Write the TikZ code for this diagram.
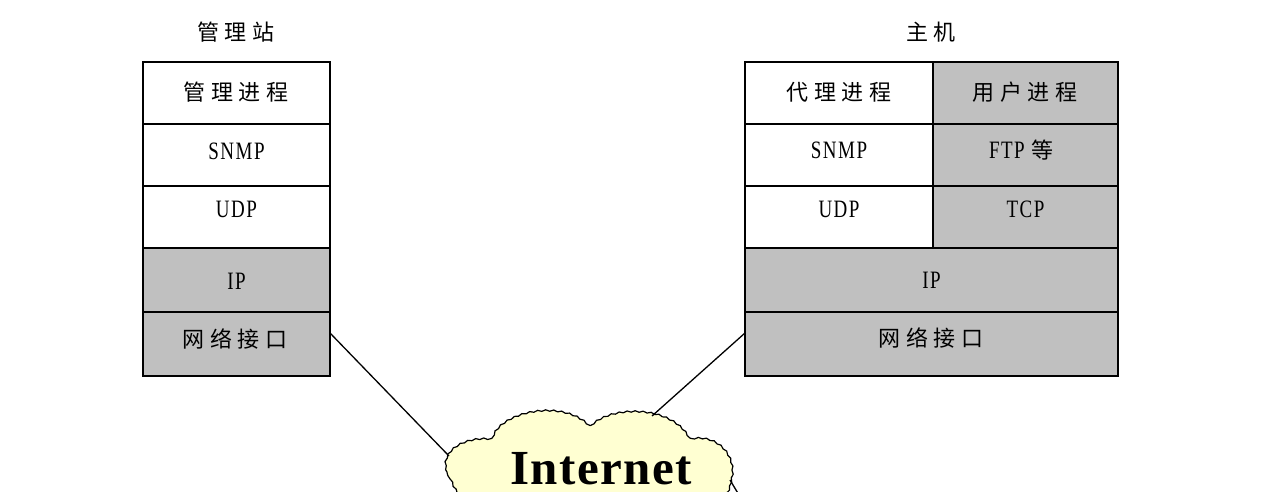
\documentclass[tikz,border=0pt]{standalone}
\usepackage{fontspec}
\setmainfont{Liberation Serif}
\newfontfamily\cjk{Noto Sans CJK SC}[LetterSpace=26]
\newfontfamily\lat{Liberation Serif}[FakeStretch=0.76,LetterSpace=6]
\newfontfamily\bigbold{Liberation Serif}[LetterSpace=3]
\usetikzlibrary{decorations.pathmorphing}
\definecolor{layergray}{HTML}{C0C0C0}
\definecolor{cloudfill}{HTML}{FFFFD2}
\tikzset{
  cell/.style={draw=black, line width=1.6pt, inner sep=0pt, outer sep=0pt},
  wcell/.style={cell, fill=white},
  gcell/.style={cell, fill=layergray},
  cjklab/.style={inner sep=0pt, anchor=center, font=\cjk\fontsize{22}{26}\selectfont},
  latlab/.style={inner sep=0pt, anchor=base, font=\lat\fontsize{25}{30}\selectfont},
  wire/.style={draw=black, line width=1.3pt},
}
\begin{document}
\begin{tikzpicture}[x=1pt,y=-1pt]
\useasboundingbox (0,0) rectangle (1266,492);
\clip (0,0) rectangle (1266,492);
\fill[white] (0,0) rectangle (1266,492);

% ---------- left stack (management station)
\node[cjklab] (ltitle) at (236,32.5) {管理站};
\node[wcell, minimum width=187pt, minimum height=62pt] (lproc) at (236.5,93) {};
\node[wcell, minimum width=187pt, minimum height=62pt] (lsnmp) at (236.5,155) {};
\node[wcell, minimum width=187pt, minimum height=62pt] (ludp)  at (236.5,217) {};
\node[gcell, minimum width=187pt, minimum height=64pt] (lip)   at (236.5,280) {};
\node[gcell, minimum width=187pt, minimum height=64pt] (lnet)  at (236.5,344) {};

\node[cjklab] (lprocT) at (236,92.5) {管理进程};
\node[latlab] (lsnmpT) at (236.5,159) {SNMP};
\node[latlab] (ludpT)  at (236.5,217) {UDP};
\node[latlab] (lipT)   at (236.5,289) {IP};
\node[cjklab] (lnetT)  at (235,339) {网络接口};

% ---------- right stack (host)
\node[cjklab] (rtitle) at (931,32) {主机};
\node[wcell, minimum width=188pt, minimum height=62pt] (rproc) at (839,93) {};
\node[wcell, minimum width=188pt, minimum height=62pt] (rsnmp) at (839,155) {};
\node[wcell, minimum width=188pt, minimum height=62pt] (rudp)  at (839,217) {};
\node[gcell, minimum width=185pt, minimum height=62pt] (uproc) at (1025.5,93) {};
\node[gcell, minimum width=185pt, minimum height=62pt] (uftp)  at (1025.5,155) {};
\node[gcell, minimum width=185pt, minimum height=62pt] (utcp)  at (1025.5,217) {};
\node[gcell, minimum width=373pt, minimum height=64pt] (rip)   at (931.5,280) {};
\node[gcell, minimum width=373pt, minimum height=64pt] (rnet)  at (931.5,344) {};

\node[cjklab] (rprocT) at (839,92.5) {代理进程};
\node[cjklab] (uprocT) at (1025,92.5) {用户进程};
\node[latlab] (rsnmpT) at (839,158) {SNMP};
\node[latlab] (uftpT)  at (1021,158) {FTP {\cjk\fontsize{22}{26}\selectfont 等}};
\node[latlab] (rudpT)  at (839,217) {UDP};
\node[latlab] (utcpT)  at (1025.5,217) {TCP};
\node[latlab] (ripT)   at (931.5,288) {IP};
\node[cjklab] (rnetT)  at (931,338) {网络接口};

% ---------- cloud
\draw[fill=cloudfill, draw=black, line width=1.2pt,
      decorate, decoration={snake, amplitude=0.7pt, segment length=8pt}]
  (447,472) .. controls (441,452) and (466,438) .. (492,441)
  .. controls (497,415) and (560,400) .. (588,427)
  .. controls (605,405) and (670,403) .. (688,438)
  .. controls (715,432) and (736,455) .. (729,480)
  .. controls (726,505) and (700,515) .. (650,518)
  -- (520,518)
  .. controls (470,515) and (452,495) .. (447,472) -- cycle;
\node[inner sep=0pt, anchor=base, font=\bigbold\bfseries\fontsize{49}{58}\selectfont] (inet) at (601,484) {Internet};

\coordinate (cloudL) at (449,456);
\coordinate (cloudT) at (652,416);
\coordinate (cloudR) at (730,480);
\coordinate (farR)   at (742,500);

% ---------- connectors
\draw[wire] ([yshift=11pt]lnet.east) -- (cloudL);
\draw[wire] ([yshift=11pt]rnet.west) -- (cloudT);
\draw[wire] (cloudR) -- (farR);
\end{tikzpicture}
\end{document}
